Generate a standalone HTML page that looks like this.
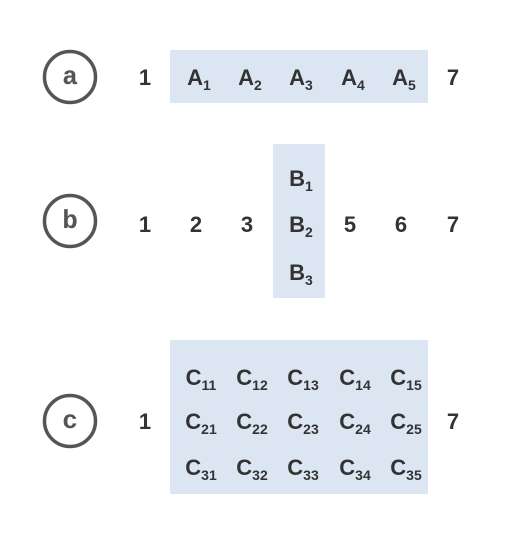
<!DOCTYPE html>
<html><head><meta charset="utf-8"><style>
html,body{margin:0;padding:0;background:#fff;}
svg{display:block;}
text{font-family:"Liberation Sans",sans-serif;font-weight:bold;font-size:22px;fill:#333;}
.sub{font-size:14px;font-weight:bold;}
</style></head><body>
<svg width="513" height="540">
<rect x="170" y="50" width="258" height="53" fill="#dce6f2"/>
<rect x="273" y="144" width="52" height="154" fill="#dce6f2"/>
<rect x="170" y="340" width="258" height="154" fill="#dce6f2"/>
<g id="g"></g>
</svg>
<script>
const cols=[145,196,247,298,350,401,453];
const svg=document.getElementById('g');
const NS='http://www.w3.org/2000/svg';
function circ(cy,ch,name){
  const c=document.createElementNS(NS,'circle');
  c.setAttribute('cx',70);c.setAttribute('cy',cy);c.setAttribute('r',25.5);
  c.setAttribute('fill','none');c.setAttribute('stroke','#555');c.setAttribute('stroke-width',3.5);
  
  
  svg.appendChild(c);
  const t=document.createElementNS(NS,'text');
  t.setAttribute('x',70);t.setAttribute('y',cy+7);t.setAttribute('text-anchor','middle');
  t.setAttribute('style','font-family:"Liberation Mono","DejaVu Sans Mono",monospace;font-size:26px;font-weight:bold;fill:#555');
  t.textContent=ch;
  
  
  svg.appendChild(t);
}
function cell(x,y,base,sub,name){
  const t=document.createElementNS(NS,'text');
  t.setAttribute('x',x);t.setAttribute('y',y+8);t.setAttribute('text-anchor','middle');
  t.textContent=base;
  if(sub){const s=document.createElementNS(NS,'tspan');s.setAttribute('class','sub');s.setAttribute('dy','5');s.textContent=sub;t.appendChild(s);}
  
  
  svg.appendChild(t);
}
circ(77,'a','row-a');circ(221,'b','row-b');circ(421,'c','row-c');
cell(cols[0],77,'1','','a-1');
for(let i=1;i<=5;i++)cell(cols[i]+3,77,'A',String(i),'a-A'+i);
cell(cols[6],77,'7','','a-7');
['1','2','3'].forEach((v,i)=>cell(cols[i],224,v,'','b-'+v));
[178,224,272].forEach((y,i)=>cell(cols[3]+3,y,'B',String(i+1),'b-B'+(i+1)));
['5','6','7'].forEach((v,i)=>cell(cols[i+4],224,v,'','b-'+v));
cell(cols[0],421,'1','','c-1');
[377,421,467].forEach((y,r)=>{for(let i=1;i<=5;i++)cell(cols[i]+5,y,'C',''+(r+1)+i,'c-C'+(r+1)+i);});
cell(cols[6],421,'7','','c-7');
</script>
</body></html>
